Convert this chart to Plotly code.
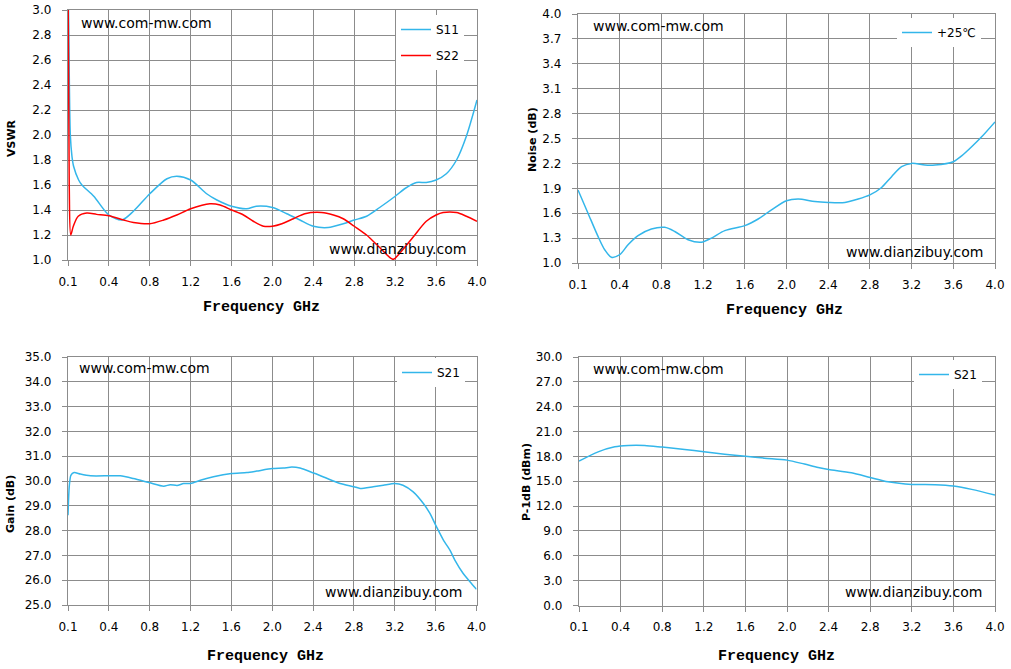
import numpy as np
import plotly.graph_objects as go

# ---------------- data ----------------
tick_labels = ["0.1", "0.4", "0.8", "1.2", "1.6", "2.0", "2.4", "2.8", "3.2", "3.6", "4.0"]
tick_ghz = [0.1, 0.4, 0.8, 1.2, 1.6, 2.0, 2.4, 2.8, 3.2, 3.6, 4.0]

s11_f = [0.100, 0.105, 0.117, 0.129, 0.141, 0.178, 0.202, 0.289, 0.40, 0.528, 0.64, 0.80, 0.968, 1.064,
         1.20, 1.356, 1.456, 1.60, 1.748, 1.84, 2.00, 2.14, 2.268, 2.40, 2.544, 2.692, 2.80, 2.92, 3.048,
         3.20, 3.292, 3.408, 3.504, 3.60, 3.70, 3.80, 3.896, 4.00]
s11_v = [3.30, 2.90, 2.00, 1.83, 1.75, 1.64, 1.60, 1.51, 1.36, 1.32, 1.39, 1.53, 1.65, 1.67,
         1.64, 1.53, 1.48, 1.43, 1.41, 1.43, 1.42, 1.37, 1.32, 1.27, 1.26, 1.29, 1.32, 1.35, 1.42,
         1.51, 1.57, 1.62, 1.62, 1.64, 1.69, 1.80, 1.99, 2.28]

s22_f = [0.100, 0.109, 0.120, 0.139, 0.175, 0.238, 0.31, 0.40, 0.544, 0.64, 0.80, 0.936, 1.064, 1.20,
         1.388, 1.488, 1.60, 1.716, 1.812, 1.912, 2.00, 2.092, 2.204, 2.316, 2.48, 2.596, 2.692, 2.80,
         2.92, 3.048, 3.18, 3.24, 3.372, 3.504, 3.60, 3.668, 3.80, 3.896, 4.00]
s22_v = [3.30, 1.60, 1.20, 1.27, 1.35, 1.375, 1.365, 1.354, 1.32, 1.30, 1.29, 1.32, 1.36, 1.41,
         1.45, 1.44, 1.40, 1.36, 1.31, 1.27, 1.27, 1.29, 1.33, 1.37, 1.38, 1.36, 1.33, 1.27,
         1.20, 1.10, 1.005, 1.05, 1.18, 1.31, 1.36, 1.38, 1.38, 1.35, 1.31]

noise_f = [0.1, 0.172, 0.244, 0.292, 0.34, 0.40, 0.48, 0.576, 0.704, 0.832, 0.928, 1.056, 1.184, 1.28,
           1.408, 1.60, 1.728, 1.856, 2.00, 2.112, 2.272, 2.40, 2.56, 2.688, 2.80, 2.912, 3.008, 3.104,
           3.20, 3.328, 3.424, 3.60, 3.68, 3.776, 3.872, 4.00]
noise_v = [1.88, 1.60, 1.32, 1.16, 1.07, 1.10, 1.22, 1.33, 1.41, 1.43, 1.38, 1.28, 1.25, 1.30,
           1.39, 1.45, 1.53, 1.64, 1.75, 1.77, 1.74, 1.73, 1.73, 1.77, 1.82, 1.91, 2.04, 2.16,
           2.20, 2.18, 2.18, 2.22, 2.29, 2.40, 2.52, 2.70]

gain_f = [0.100, 0.109, 0.121, 0.145, 0.19, 0.265, 0.40, 0.512, 0.64, 0.80, 0.936, 1.00, 1.068, 1.132,
          1.20, 1.296, 1.424, 1.60, 1.752, 1.848, 2.00, 2.108, 2.192, 2.272, 2.40, 2.516, 2.664, 2.80,
          2.86, 2.988, 3.088, 3.20, 3.28, 3.38, 3.48, 3.544, 3.60, 3.676, 3.74, 3.788, 3.868, 3.936, 4.00]
gain_v = [28.62, 29.77, 30.23, 30.34, 30.28, 30.21, 30.21, 30.21, 30.10, 29.93, 29.79, 29.85, 29.82, 29.90,
          29.90, 30.03, 30.17, 30.30, 30.34, 30.40, 30.50, 30.52, 30.56, 30.52, 30.33, 30.14, 29.90, 29.77,
          29.70, 29.77, 29.83, 29.90, 29.83, 29.56, 29.09, 28.69, 28.22, 27.62, 27.21, 26.81, 26.28, 25.94, 25.63]

p1db_f = [0.1, 0.238, 0.358, 0.472, 0.632, 0.80, 1.016, 1.20, 1.40, 1.60, 1.784, 2.00, 2.168, 2.30,
          2.40, 2.62, 2.80, 2.972, 3.20, 3.424, 3.60, 3.776, 4.00]
p1db_v = [17.43, 18.55, 19.16, 19.32, 19.32, 19.12, 18.84, 18.55, 18.27, 18.03, 17.79, 17.55, 17.07, 16.67,
          16.43, 16.02, 15.46, 14.94, 14.62, 14.58, 14.42, 14.02, 13.33]

# ---------------- styling ----------------
W, H = 1011, 669
BLUE = "#33B6EA"
RED = "#FF0000"
GRID = "#8C8C8C"
TICKFONT = dict(family="DejaVu Sans", size=12, color="#000000")


def pos(f):
    # category-style axis: tick labels evenly spaced
    return np.interp(f, tick_ghz, np.arange(len(tick_ghz)))


def px(x):
    return x / W


def py(y):
    return 1 - y / H


panels = [
    # (x0, x1, ytop, ybottom, yrange, dtick)
    (68, 477, 10, 260, [1.0, 3.0], 0.2),
    (578, 995, 14, 263, [1.0, 4.0], 0.3),
    (68, 476.5, 357, 605, [25.0, 35.0], 1.0),
    (579, 995, 357, 605.5, [0.0, 30.0], 3.0),
]

fig = go.Figure()
layout = dict(width=W, height=H, margin=dict(l=0, r=0, t=0, b=0, pad=0, autoexpand=False),
              paper_bgcolor="white", plot_bgcolor="white", showlegend=True, hovermode=False)

for i, (x0, x1, yt, yb, yr, dt) in enumerate(panels):
    n = "" if i == 0 else str(i + 1)
    layout["xaxis" + n] = dict(domain=[px(x0), px(x1)], range=[0, 10], tickvals=list(range(11)),
                               ticktext=tick_labels, showgrid=True, gridcolor=GRID, gridwidth=1.3,
                               showline=True, linecolor=GRID, linewidth=1.3, mirror=True,
                               ticks="outside", ticklen=5, tickcolor=GRID, tickwidth=1.3,
                               tickfont=TICKFONT, zeroline=False, anchor="y" + n,
                               ticklabelstandoff=5, fixedrange=True, automargin=False)
    layout["yaxis" + n] = dict(domain=[py(yb), py(yt)], range=yr, dtick=dt, tick0=yr[0],
                               tickformat=".1f", showgrid=True, gridcolor=GRID, gridwidth=1.3,
                               showline=True, linecolor=GRID, linewidth=1.3, mirror=True,
                               ticks="outside", ticklen=5, tickcolor=GRID, tickwidth=1.3,
                               tickfont=TICKFONT, zeroline=False, anchor="x" + n,
                               ticklabelstandoff=8, fixedrange=True, automargin=False)

line_kw = dict(mode="lines", line_shape="spline")
fig.add_trace(go.Scatter(x=pos(s11_f), y=s11_v, name="S11", line=dict(color=BLUE, width=1.5, smoothing=0.8),
                         xaxis="x", yaxis="y", legend="legend", legendgroup="a", **line_kw))
fig.add_trace(go.Scatter(x=pos(s22_f), y=s22_v, name="S22", line=dict(color=RED, width=1.5, smoothing=0.8),
                         xaxis="x", yaxis="y", legend="legend", legendgroup="b", **line_kw))
fig.add_trace(go.Scatter(x=pos(noise_f), y=noise_v, name="+25℃", line=dict(color=BLUE, width=1.5, smoothing=0.8),
                         xaxis="x2", yaxis="y2", legend="legend2", **line_kw))
fig.add_trace(go.Scatter(x=pos(gain_f), y=gain_v, name="S21", line=dict(color=BLUE, width=1.5, smoothing=0.6),
                         xaxis="x3", yaxis="y3", legend="legend3", **line_kw))
fig.add_trace(go.Scatter(x=pos(p1db_f), y=p1db_v, name="S21", line=dict(color=BLUE, width=1.5, smoothing=0.8),
                         xaxis="x4", yaxis="y4", legend="legend4", **line_kw))

LEGFONT = dict(family="DejaVu Sans", size=12, color="#000000")
leg_common = dict(bgcolor="white", borderwidth=0, font=LEGFONT, xanchor="left", yanchor="top",
                  itemwidth=30, itemclick=False, itemdoubleclick=False)
layout["legend"] = dict(x=px(396), y=py(15), tracegroupgap=7, traceorder="grouped", **leg_common)
layout["legend2"] = dict(x=px(897), y=py(18), **leg_common)
layout["legend3"] = dict(x=px(397), y=py(358), **leg_common)
layout["legend4"] = dict(x=px(914), y=py(360), **leg_common)

ann = []
WM = dict(family="DejaVu Sans", size=14, color="#000000")
for (x, y) in [(79, 23), (591, 26), (77, 368), (591, 369)]:
    ann.append(dict(text="www.com-mw.com", x=px(x), y=py(y), xref="paper", yref="paper",
                    xanchor="left", yanchor="middle", showarrow=False, font=WM))
for (x, y) in [(327, 249), (844, 252), (323, 592), (843, 592)]:
    ann.append(dict(text="www.dianzibuy.com", x=px(x), y=py(y), xref="paper", yref="paper",
                    xanchor="left", yanchor="middle", showarrow=False, font=WM))
XT = dict(family="Liberation Mono, DejaVu Serif, serif", size=15, color="#000000", weight="bold")
for (x, y) in [(261, 307), (784, 310), (265, 656), (776, 656)]:
    ann.append(dict(text="Frequency GHz", x=px(x), y=py(y), xref="paper", yref="paper",
                    xanchor="center", yanchor="middle", showarrow=False, font=XT))
YT = dict(family="DejaVu Sans", size=11, color="#000000", weight="bold")
for (t, x, y) in [("VSWR", 11, 138), ("Noise (dB)", 533, 140), ("Gain (dB)", 11, 504), ("P-1dB (dBm)", 526, 482)]:
    ann.append(dict(text=t, x=px(x), y=py(y), xref="paper", yref="paper",
                    xanchor="center", yanchor="middle", textangle=-90, showarrow=False, font=YT))
layout["annotations"] = ann

fig.update_layout(**layout)
fig.write_html("out.html", config={"displayModeBar": False, "staticPlot": False},
               post_script="document.body.style.margin='0px';document.body.style.overflow='hidden';")
